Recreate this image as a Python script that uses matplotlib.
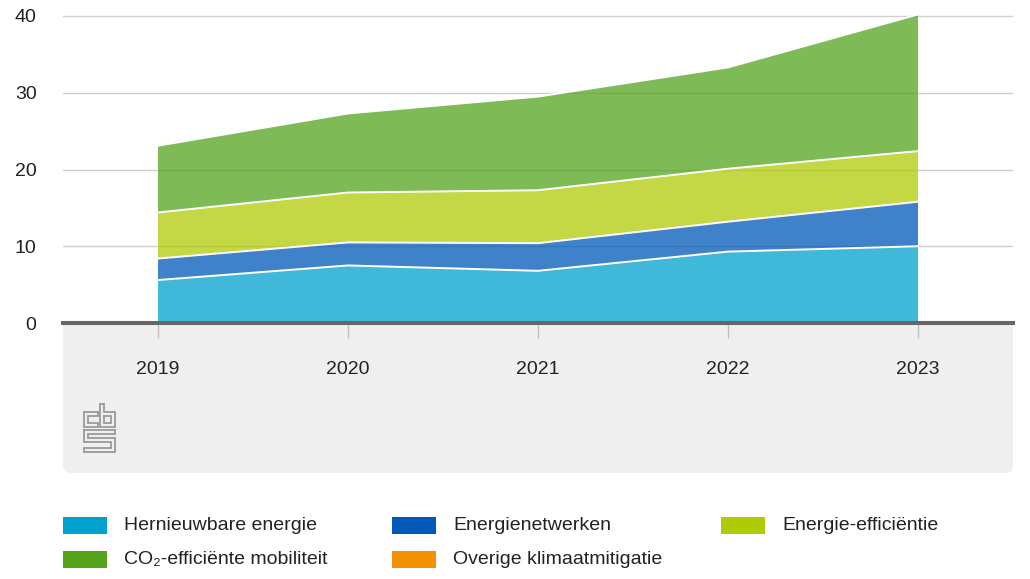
import matplotlib
matplotlib.use("Agg")
import matplotlib.pyplot as plt
import numpy as np
from matplotlib.patches import FancyBboxPatch, Rectangle
from matplotlib.lines import Line2D

plt.rcParams['font.family'] = ['Liberation Sans', 'DejaVu Sans']

years = [2019, 2020, 2021, 2022, 2023]
hernieuwbare = [5.6, 7.5, 6.8, 9.3, 10.0]
netwerken = [2.8, 3.0, 3.6, 3.9, 5.8]
efficientie = [6.0, 6.5, 6.9, 6.9, 6.6]
mobiliteit = [8.7, 10.3, 12.2, 13.2, 17.8]
overige = [0.0, 0.0, 0.0, 0.0, 0.0]

series_names = ["Hernieuwbare energie", "Energienetwerken", "Energie-efficiëntie",
                "CO₂-efficiënte mobiliteit", "Overige klimaatmitigatie"]
colors = ["#00A1CD", "#0058B8", "#AFCB05", "#53A31D", "#F39200"]
yticks = [0, 10, 20, 30, 40]

W, H = 1030, 579
fig = plt.figure(figsize=(W / 100, H / 100), dpi=100)

# overlay axes in pixel coordinates for decorations
bg = fig.add_axes([0, 0, 1, 1], zorder=0)
bg.set_xlim(0, W)
bg.set_ylim(H, 0)
bg.axis('off')

# grey panel under the x axis with rounded bottom corners
panel = FancyBboxPatch((63 + 8, 300 + 8), 950 - 16, 173 - 16,
                       boxstyle="round,pad=8", fc="#efefef", ec="none")
bg.add_patch(panel)
bg.add_patch(Rectangle((63, 300), 950, 30, fc="white", ec="none"))
bg.add_patch(Rectangle((63, 323), 950, 20, fc="#efefef", ec="none"))

# cbs logo (approximate)
lc = "#9a9a9a"
lw = 1.3
def pl(xs, ys):
    bg.add_line(Line2D(xs, ys, color=lc, lw=lw, solid_joinstyle='miter'))
# c
pl([98, 84, 84, 98, 98, 88, 88, 98, 98], [412, 412, 427, 427, 423, 423, 416, 416, 412])
# b
pl([100, 104, 104, 115, 115, 100, 100], [404, 404, 412, 412, 427, 427, 404])
pl([104, 111, 111, 104, 104], [416, 416, 423, 423, 416])
# s
pl([84, 115, 115, 88, 88, 115, 115, 84, 84, 111, 111, 84, 84],
   [430, 430, 434, 434, 438, 438, 452, 452, 448, 448, 442, 442, 430])

# main axes
ymax = 41
top_px = 323 - ymax * (307 / 40)
ax = fig.add_axes([63 / W, (H - 323) / H, 950 / W, (323 - top_px) / H], zorder=1)
ax.patch.set_alpha(0)

data = np.array([hernieuwbare, netwerken, efficientie, mobiliteit, overige])
ax.stackplot(years, data, colors=colors, alpha=0.75, linewidth=0)
cum = np.cumsum(data, axis=0)
for i in range(4):
    ax.plot(years, cum[i], color="white", lw=1.4, zorder=3)

ax.set_xlim(2018.5, 2023.5)
ax.set_ylim(0, ymax)
ax.set_yticks(yticks)
ax.set_yticklabels([str(v) for v in yticks])
ax.set_xticks(years)
ax.set_xticklabels([str(y) for y in years])
ax.grid(axis='y', color="#d0d0d0", lw=1)
ax.set_axisbelow(True)
for s in ax.spines.values():
    s.set_visible(False)
ax.axhline(0, color="#666666", lw=2.9, zorder=4, clip_on=False)
ax.tick_params(axis='y', length=0, pad=19, labelsize=14, labelcolor="#222222")
ax.tick_params(axis='x', length=11, width=1, color="#c0c0c0", direction='out',
               pad=16, labelsize=14, labelcolor="#222222")

# legend (manual)
col_x = [63, 392, 721]
row_y = [525, 559]
for i, (name, c) in enumerate(zip(series_names, colors)):
    r, k = divmod(i, 3)
    x0 = col_x[k]
    y0 = row_y[r]
    bg.add_patch(Rectangle((x0, y0 - 8), 44, 17, fc=c, ec="none"))
    bg.text(x0 + 61, y0, name, fontsize=14, color="#222222", va='center', ha='left')

fig.savefig("out.png", dpi=100)
